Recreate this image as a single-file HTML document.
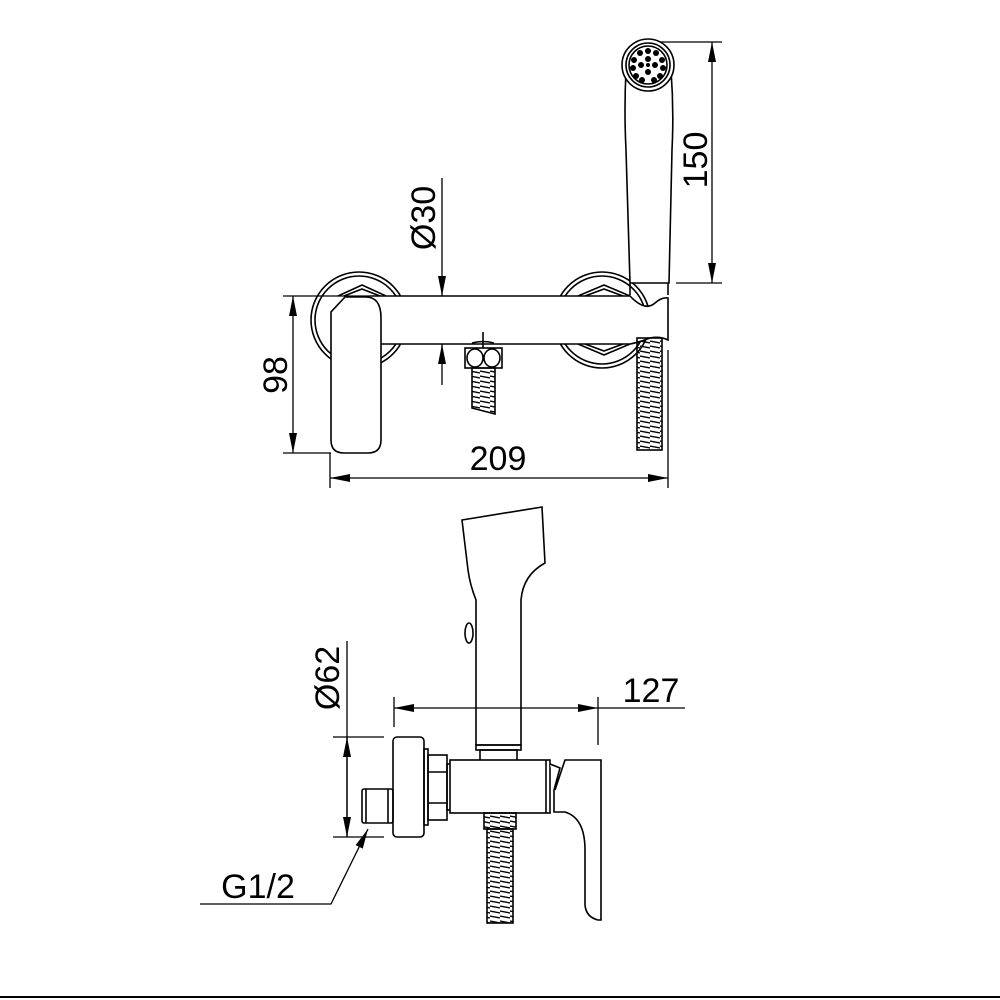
<!DOCTYPE html>
<html><head><meta charset="utf-8"><style>
html,body{margin:0;padding:0;background:#fff;}
svg{display:block;}
text{font-family:"Liberation Sans",sans-serif;fill:#000;}
</style></head><body>
<svg width="1000" height="1000" viewBox="0 0 1000 1000" xmlns="http://www.w3.org/2000/svg">
<defs>
<marker id="a" viewBox="0 0 20 8" refX="20" refY="4" markerWidth="20" markerHeight="8" markerUnits="userSpaceOnUse" orient="auto-start-reverse"><path d="M0,0 L20,4 L0,8 Z" fill="#000"/></marker>
<pattern id="thr" width="10" height="5" patternUnits="userSpaceOnUse"><path d="M0,1 L10,3" stroke="#000" stroke-width="1.4"/></pattern>
</defs>
<g fill="none" stroke="#000" stroke-width="1.6">
<circle cx="359" cy="320" r="48" fill="#fff"/>
<circle cx="359" cy="320" r="44"/>
<circle cx="602" cy="320" r="48" fill="#fff"/>
<circle cx="602" cy="320" r="44"/>
<path d="M338,296 L362,285 L386,296" fill="#fff"/>
<path d="M344,296 L362,289 L380,296"/>
<path d="M578,296 L604,285 L630,296" fill="#fff"/>
<path d="M585,296 L604,289 L623,296"/>
<path d="M578,344 L604,355 L630,344" fill="#fff"/>
<path d="M585,344 L604,351 L623,344"/>
<path d="M370,296 L630,296 Q645,312 655,303 Q662,297 668,298 L668,340 Q660,336 650,338 Q640,342 630,344 L380,344" fill="#fff"/>
<path d="M345,297 L366,297 Q381,297 381,318 L381,440 Q381,453 368,453 L344,453 Q331,453 331,440 L331,312 Z" fill="#fff"/>
<rect x="465" y="348" width="37" height="20" fill="#fff"/>
<ellipse cx="475" cy="358" rx="8" ry="9"/>
<ellipse cx="492" cy="358" rx="8" ry="9"/>
<path d="M472,343 Q483,340 494,343"/>
<line x1="483" y1="332" x2="483" y2="348"/>
<path d="M472,368 L472,408 L495,414 L495,368 Z" fill="url(#thr)"/>
<rect x="637" y="338" width="25" height="112" fill="url(#thr)"/>
<path d="M626,70 Q624,110 626,150 L630,283 L669,283 L672,150 Q674,110 671,70" fill="#fff"/>
<line x1="630" y1="283" x2="630" y2="295"/><line x1="668" y1="283" x2="668" y2="295"/>
<circle cx="648" cy="65" r="26" fill="#fff"/>
<circle cx="648" cy="65" r="22"/>
<circle cx="648" cy="65" r="19"/>
</g>
<g fill="#000">
<circle cx="648" cy="51" r="3"/><circle cx="656" cy="53" r="3"/><circle cx="640" cy="53" r="3"/>
<circle cx="634" cy="60" r="3"/><circle cx="662" cy="60" r="3"/><circle cx="633" cy="68" r="3"/><circle cx="663" cy="68" r="3"/>
<circle cx="636" cy="76" r="3"/><circle cx="660" cy="76" r="3"/><circle cx="642" cy="80" r="3"/><circle cx="654" cy="80" r="3"/>
<circle cx="648" cy="59" r="3"/><circle cx="641" cy="65" r="3"/><circle cx="655" cy="65" r="3"/><circle cx="648" cy="72" r="3"/>
<circle cx="648" cy="65" r="2"/>
</g>
<g fill="none" stroke="#000" stroke-width="1.3">
<line x1="660" y1="42" x2="722" y2="42"/><line x1="676" y1="283" x2="722" y2="283"/>
<line x1="712" y1="42" x2="712" y2="283" marker-start="url(#a)" marker-end="url(#a)"/>
<line x1="283" y1="296" x2="370" y2="296"/><line x1="283" y1="453" x2="331" y2="453"/>
<line x1="293" y1="296" x2="293" y2="453" marker-start="url(#a)" marker-end="url(#a)"/>
<line x1="330" y1="453" x2="330" y2="488"/><line x1="668" y1="350" x2="668" y2="488"/>
<line x1="330" y1="478" x2="668" y2="478" marker-start="url(#a)" marker-end="url(#a)"/>
<line x1="442" y1="178" x2="442" y2="296" marker-end="url(#a)"/>
<line x1="442" y1="385" x2="442" y2="344" marker-end="url(#a)"/>
</g>
<text x="498" y="470" font-size="34" text-anchor="middle">209</text>
<text transform="translate(287,375) rotate(-90)" font-size="34" text-anchor="middle">98</text>
<text transform="translate(435,218) rotate(-90)" font-size="34" text-anchor="middle">Ø30</text>
<text transform="translate(707,160) rotate(-90)" font-size="34" text-anchor="middle">150</text>

<g fill="none" stroke="#000" stroke-width="1.6">
<path d="M462,520 L542,507 L545,563 Q523,575 521,600 L521,745 L476,745 L476,600 Q470,585 468,570 Z" fill="#fff"/>
<rect x="476" y="745" width="45" height="5"/>
<rect x="480" y="750" width="37" height="11"/>
<ellipse cx="469" cy="633" rx="4" ry="10"/>
<rect x="393" y="737" width="31" height="100" rx="4" fill="#fff"/>
<rect x="424" y="749" width="4" height="76"/>
<rect x="428" y="755" width="19" height="65"/>
<line x1="428" y1="772" x2="447" y2="772"/><line x1="428" y1="803" x2="447" y2="803"/>
<rect x="447" y="764" width="4" height="46"/>
<rect x="362" y="789" width="31" height="34" rx="2"/>
<line x1="388" y1="789" x2="388" y2="823"/><line x1="366" y1="789" x2="366" y2="823"/>
<rect x="450" y="760" width="100" height="53" fill="#fff"/>
<line x1="546" y1="760" x2="546" y2="813"/>
<path d="M550,764 L560,768 L554,790 L554,812 L565,812 Q585,818 585,850 L585,905 Q586,917 598,920 L601,920 L601,760 L565,760 L555,790" fill="#fff"/>
<rect x="484" y="813" width="32" height="16" fill="url(#thr)"/>
<rect x="487" y="829" width="26" height="94" fill="url(#thr)"/>
</g>
<g fill="none" stroke="#000" stroke-width="1.3">
<line x1="347" y1="641" x2="347" y2="837"/>
<line x1="347" y1="737" x2="347" y2="837" marker-start="url(#a)" marker-end="url(#a)"/>
<line x1="333" y1="737" x2="384" y2="737"/><line x1="333" y1="837" x2="384" y2="837"/>
<line x1="394" y1="697" x2="394" y2="727"/><line x1="598" y1="697" x2="598" y2="745"/>
<line x1="394" y1="708" x2="598" y2="708" marker-start="url(#a)" marker-end="url(#a)"/>
<line x1="598" y1="708" x2="685" y2="708"/>
<polyline points="200,904 331,904 368,829" marker-end="url(#a)"/>
<line x1="0" y1="997" x2="1000" y2="997" stroke-width="2"/>
</g>
<text x="651" y="702" font-size="34" text-anchor="middle">127</text>
<text transform="translate(339,678) rotate(-90)" font-size="34" text-anchor="middle">Ø62</text>
<text x="258" y="898" font-size="34" text-anchor="middle">G1/2</text>
</svg>
</body></html>
